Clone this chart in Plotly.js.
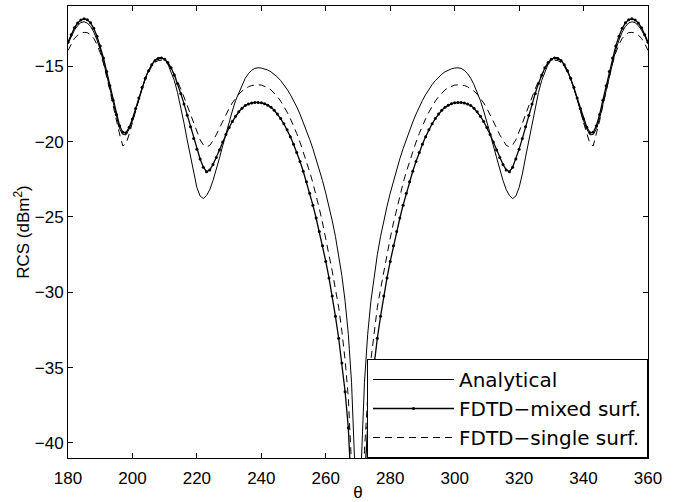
<!DOCTYPE html>
<html>
<head>
<meta charset="utf-8">
<script src="https://cdn.plot.ly/plotly-3.0.1.min.js"></script>
<style>html,body{margin:0;padding:0;background:#fff;}#chart{width:674px;height:502px;}</style>
</head>
<body>
<div id="chart"></div>
<script>
// theta runs from 180 to 360 degrees in 1-degree steps
const THETA_START = 180;
const THETA_STEP = 1;

const seriesNames = ["Analytical", "FDTD\u2212mixed surf.", "FDTD\u2212single surf."];

const analytical = [
  -13.5, -13.0, -12.6, -12.3, -12.1, -12.05, -12.13, -12.35, -12.73, -13.26,
  -13.9, -14.7, -15.6, -16.55, -17.5, -18.43, -19.15, -19.53, -19.55, -19.16,
  -18.61, -17.88, -17.16, -16.43, -15.8, -15.28, -14.87, -14.58, -14.43, -14.41,
  -14.54, -14.85, -15.34, -15.95, -16.75, -17.69, -18.77, -19.9, -21.03, -22.16,
  -23.05, -23.61, -23.78, -23.58, -23.19, -22.58, -21.89, -21.1, -20.28, -19.45,
  -18.67, -17.97, -17.28, -16.75, -16.23, -15.8, -15.49, -15.27, -15.14, -15.1,
  -15.12, -15.17, -15.25, -15.37, -15.53, -15.72, -15.95, -16.22, -16.53, -16.88,
  -17.27, -17.7, -18.18, -18.7, -19.27, -19.85, -20.47, -21.13, -21.84, -22.6,
  -23.42, -24.3, -25.25, -26.3, -27.5, -28.9, -30.6, -32.8, -36.0, -41.5,
  -60,
  -41.5, -36.0, -32.8, -30.6, -28.9, -27.5, -26.3, -25.25, -24.3, -23.42,
  -22.6, -21.84, -21.13, -20.47, -19.85, -19.27, -18.7, -18.18, -17.7, -17.27,
  -16.88, -16.53, -16.22, -15.95, -15.72, -15.53, -15.37, -15.25, -15.17, -15.12,
  -15.1, -15.14, -15.27, -15.49, -15.8, -16.23, -16.75, -17.28, -17.97, -18.67,
  -19.45, -20.28, -21.1, -21.89, -22.58, -23.19, -23.58, -23.78, -23.61, -23.05,
  -22.16, -21.03, -19.9, -18.77, -17.69, -16.75, -15.95, -15.34, -14.85, -14.54,
  -14.41, -14.43, -14.58, -14.87, -15.28, -15.8, -16.43, -17.16, -17.88, -18.61,
  -19.16, -19.55, -19.53, -19.15, -18.43, -17.5, -16.55, -15.6, -14.7, -13.9,
  -13.26, -12.73, -12.35, -12.13, -12.05, -12.1, -12.3, -12.6, -13.0, -13.5
];

const fdtdMixed = [
  -13.4, -12.9, -12.45, -12.13, -11.93, -11.85, -11.92, -12.12, -12.48, -13.0,
  -13.65, -14.45, -15.35, -16.3, -17.25, -18.2, -18.95, -19.38, -19.42, -19.05,
  -18.5, -17.8, -17.1, -16.4, -15.8, -15.3, -14.9, -14.62, -14.48, -14.45,
  -14.53, -14.75, -15.1, -15.58, -16.15, -16.8, -17.5, -18.25, -19.02, -19.8,
  -20.5, -21.15, -21.7, -22.0, -21.88, -21.52, -21.06, -20.55, -20.03, -19.53,
  -19.07, -18.67, -18.32, -18.02, -17.79, -17.61, -17.5, -17.43, -17.4, -17.4,
  -17.42, -17.48, -17.58, -17.72, -17.92, -18.17, -18.47, -18.82, -19.22, -19.67,
  -20.17, -20.72, -21.32, -21.97, -22.67, -23.42, -24.22, -25.07, -25.97, -26.92,
  -27.95, -29.05, -30.25, -31.6, -33.05, -34.7, -36.6, -39.0, -42.5, -48,
  -60,
  -48, -42.5, -39.0, -36.6, -34.7, -33.05, -31.6, -30.25, -29.05, -27.95,
  -26.92, -25.97, -25.07, -24.22, -23.42, -22.67, -21.97, -21.32, -20.72, -20.17,
  -19.67, -19.22, -18.82, -18.47, -18.17, -17.92, -17.72, -17.58, -17.48, -17.42,
  -17.4, -17.4, -17.43, -17.5, -17.61, -17.79, -18.02, -18.32, -18.67, -19.07,
  -19.53, -20.03, -20.55, -21.06, -21.52, -21.88, -22.0, -21.7, -21.15, -20.5,
  -19.8, -19.02, -18.25, -17.5, -16.8, -16.15, -15.58, -15.1, -14.75, -14.53,
  -14.45, -14.48, -14.62, -14.9, -15.3, -15.8, -16.4, -17.1, -17.8, -18.5,
  -19.05, -19.42, -19.38, -18.95, -18.2, -17.25, -16.3, -15.35, -14.45, -13.65,
  -13.0, -12.48, -12.12, -11.92, -11.85, -11.93, -12.13, -12.45, -12.9, -13.4
];

const fdtdSingle = [
  -13.95, -13.5, -13.15, -12.93, -12.8, -12.75, -12.77, -12.9, -13.15, -13.55,
  -14.1, -14.8, -15.65, -16.6, -17.6, -18.6, -19.5, -20.28, -20.15, -19.5,
  -18.75, -17.95, -17.15, -16.45, -15.85, -15.38, -15.0, -14.75, -14.62, -14.6,
  -14.66, -14.85, -15.15, -15.55, -16.0, -16.5, -17.05, -17.6, -18.2, -18.8,
  -19.38, -19.88, -20.22, -20.35, -20.25, -19.95, -19.55, -19.1, -18.65, -18.2,
  -17.8, -17.43, -17.12, -16.86, -16.65, -16.48, -16.36, -16.28, -16.24, -16.23,
  -16.25, -16.31, -16.42, -16.57, -16.77, -17.02, -17.31, -17.65, -18.04, -18.47,
  -18.95, -19.47, -20.04, -20.65, -21.3, -22.0, -22.75, -23.55, -24.45, -25.4,
  -26.4, -27.5, -28.6, -29.8, -31.0, -32.6, -34.5, -37.0, -40.5, -46,
  -60,
  -46, -40.5, -37.0, -34.5, -32.6, -31.0, -29.8, -28.6, -27.5, -26.4,
  -25.4, -24.45, -23.55, -22.75, -22.0, -21.3, -20.65, -20.04, -19.47, -18.95,
  -18.47, -18.04, -17.65, -17.31, -17.02, -16.77, -16.57, -16.42, -16.31, -16.25,
  -16.23, -16.24, -16.28, -16.36, -16.48, -16.65, -16.86, -17.12, -17.43, -17.8,
  -18.2, -18.65, -19.1, -19.55, -19.95, -20.25, -20.35, -20.22, -19.88, -19.38,
  -18.8, -18.2, -17.6, -17.05, -16.5, -16.0, -15.55, -15.15, -14.85, -14.66,
  -14.6, -14.62, -14.75, -15.0, -15.38, -15.85, -16.45, -17.15, -17.95, -18.75,
  -19.5, -20.15, -20.28, -19.5, -18.6, -17.6, -16.6, -15.65, -14.8, -14.1,
  -13.55, -13.15, -12.9, -12.77, -12.75, -12.8, -12.93, -13.15, -13.5, -13.95
];

const xTicks = [180, 200, 220, 240, 260, 280, 300, 320, 340, 360];
const yTicks = [-40, -35, -30, -25, -20, -15];

const FONT = '"Liberation Sans", Arial, Helvetica, sans-serif';
const LEGEND_FONT = '"DejaVu Sans", "Liberation Sans", Arial, sans-serif';

const traces = [
  {
    type: 'scatter', mode: 'lines', name: seriesNames[0],
    x0: THETA_START, dx: THETA_STEP, y: analytical,
    line: {color: '#000', width: 1}
  },
  {
    type: 'scatter', mode: 'lines+markers', name: seriesNames[1],
    x0: THETA_START, dx: THETA_STEP, y: fdtdMixed,
    line: {color: '#000', width: 1.3},
    marker: {color: '#000', size: 3, symbol: 'circle'}
  },
  {
    type: 'scatter', mode: 'lines', name: seriesNames[2],
    x0: THETA_START, dx: THETA_STEP, y: fdtdSingle,
    line: {color: '#000', width: 1, dash: '7px,5px'}
  }
];

const layout = {
  width: 674, height: 502,
  margin: {l: 68, r: 26, t: 6, b: 44, pad: 0},
  paper_bgcolor: '#fff', plot_bgcolor: '#fff',
  font: {family: FONT, size: 17, color: '#000'},
  showlegend: true,
  legend: {
    x: 1, xanchor: 'right', y: 0, yanchor: 'bottom',
    bgcolor: '#fff', bordercolor: '#000', borderwidth: 1,
    font: {family: LEGEND_FONT, size: 20, color: '#000'},
    itemwidth: 81, tracegroupgap: 0
  },
  xaxis: {
    range: [180, 360], tickvals: xTicks, ticktext: xTicks.map(String),
    ticks: 'inside', ticklen: 5, tickcolor: '#000', tickwidth: 1,
    showline: true, linecolor: '#000', linewidth: 1, mirror: 'ticks',
    showgrid: false, zeroline: false, ticklabelstandoff: 5,
    tickfont: {family: FONT, size: 17, color: '#000'},
    title: {text: '\u03b8', font: {family: FONT, size: 17, color: '#000'}, standoff: 0}
  },
  yaxis: {
    range: [-41, -11], tickvals: yTicks,
    ticks: 'inside', ticklen: 5, tickcolor: '#000', tickwidth: 1,
    showline: true, linecolor: '#000', linewidth: 1, mirror: 'ticks',
    showgrid: false, zeroline: false,
    tickfont: {family: FONT, size: 17, color: '#000'},
    title: {text: 'RCS (dBm<sup>2</sup>)', font: {family: FONT, size: 17, color: '#000'}, standoff: 0}
  }
};

Plotly.newPlot('chart', traces, layout, {staticPlot: true, displayModeBar: false});
</script>
</body>
</html>
